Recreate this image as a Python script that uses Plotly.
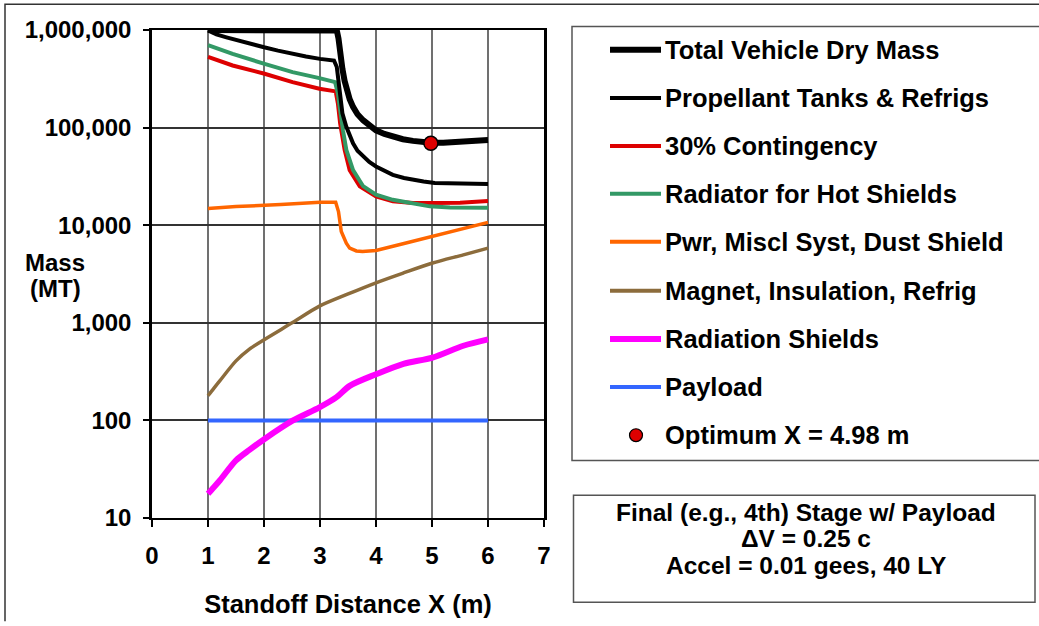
import plotly.graph_objects as go

# ---------------- data ----------------
total_x = [1.0, 1.5, 2.0, 2.5, 3.0, 3.25, 3.30, 3.33, 3.36, 3.40, 3.44, 3.48, 3.53, 3.59, 3.67,
           3.77, 3.88, 4.0, 4.15, 4.30, 4.48, 4.66, 4.80, 4.98, 5.2, 5.5, 5.8, 6.0]
total_y = [1000000, 1000000, 1000000, 1000000, 1000000, 1000000, 990000, 820000, 560000, 400000,
           300000, 240000, 195000, 163000, 137000, 119000, 104000, 93800, 86000, 80300, 76000,
           73100, 71500, 69800, 70000, 71000, 73000, 74500]

prop_x = [1.0, 1.15, 1.33, 1.5, 1.74, 2.0, 2.25, 2.5, 2.75, 3.0, 3.25, 3.30, 3.33, 3.36, 3.40,
          3.47, 3.53, 3.59, 3.67, 3.77, 3.88, 4.0, 4.15, 4.3, 4.5, 4.66, 4.85, 5.05, 5.5, 6.0]
prop_y = [990000, 900000, 841000, 790000, 720000, 665000, 615000, 569000, 535000, 506000, 486000,
          417000, 282000, 200000, 140000, 102000, 82000, 69000, 58000, 50600, 44500, 40000, 36000,
          32800, 30500, 29200, 28000, 27000, 26500, 26500]

cont_x = [1.0, 1.44, 2.01, 2.51, 2.99, 3.23, 3.28, 3.32, 3.36, 3.44, 3.53, 3.71, 4.0, 4.3, 4.66,
          5.0, 5.5, 6.0]
cont_y = [530000, 433000, 356000, 292000, 250000, 240000, 235000, 176000, 110000, 59000, 36700,
          25100, 19700, 17600, 16900, 16900, 17000, 17700]

rad_x = [1.0, 1.44, 2.01, 2.51, 2.99, 3.23, 3.27, 3.32, 3.35, 3.41, 3.47, 3.59, 3.77, 4.0, 4.3,
         4.66, 4.96, 5.32, 6.0]
rad_y = [700000, 569000, 450000, 370000, 321000, 297000, 292000, 223000, 163000, 93800, 59000,
         36700, 25100, 20500, 18200, 16600, 15600, 15200, 15100]

pwr_x = [1.0, 1.5, 2.3, 3.0, 3.28, 3.33, 3.38, 3.47, 3.53, 3.65, 3.76, 4.0, 4.5, 5.01, 5.5, 6.0]
pwr_y = [14800, 15500, 16300, 17200, 17200, 13800, 8630, 6550, 5820, 5450, 5370, 5500, 6500,
         7670, 9000, 10700]

mag_x = [1.0, 1.1, 1.21, 1.5, 1.74, 2.01, 2.51, 2.99, 3.48, 4.0, 4.49, 5.01, 5.56, 6.0]
mag_y = [179, 212, 254, 407, 538, 676, 1005, 1480, 1950, 2570, 3240, 4100, 4970, 5820]

shield_x = [1.0, 1.1, 1.21, 1.5, 1.74, 2.01, 2.51, 2.99, 3.29, 3.53, 4.0, 4.49, 5.01, 5.56, 6.0]
shield_y = [17.7, 20.5, 24.2, 38.9, 49.9, 64.6, 99.3, 136, 172, 226, 297, 380, 440, 582, 676]

payload_x = [1.0, 6.0]
payload_y = [100, 100]

opt_x = [4.98]
opt_y = [69000]

y_tickvals = [10, 100, 1000, 10000, 100000, 1000000]
y_ticktext = ["10", "100", "1,000", "10,000", "100,000", "1,000,000"]
x_tickvals = [0, 1, 2, 3, 4, 5, 6, 7]

legend_names = ["Total Vehicle Dry Mass", "Propellant Tanks & Refrigs", "30% Contingency",
                "Radiator for Hot Shields", "Pwr, Miscl Syst, Dust Shield",
                "Magnet, Insulation, Refrig", "Radiation Shields", "Payload",
                "Optimum X = 4.98 m"]
note_lines = ["Final (e.g., 4th) Stage w/ Payload", "ΔV = 0.25 c", "Accel = 0.01 gees, 40 LY"]
y_title_lines = ["Mass", "(MT)"]

# ---------------- styles / layout ----------------
FONT = "Liberation Sans, Arial, Helvetica, sans-serif"
colors = ["#000000", "#000000", "#dd0000", "#339966", "#ff6600", "#8c6c3c", "#ff00ff", "#3366ff"]
widths = [6, 4, 4, 4, 3.5, 3.5, 6, 4]
shapes_kind = ["linear", "linear", "linear", "linear", "linear", "spline", "spline", "linear"]

W, H = 1039, 626
L, R, T, B = 152, 495, 30, 104
PW, PH = W - L - R, H - T - B


def px(x):
    """screen pixel x -> paper x"""
    return (x - L) / PW


def py(y):
    """screen pixel y -> paper y"""
    return (H - B - y) / PH


def path(points):
    """SVG path in paper coordinates from a list of screen-pixel points"""
    return "M " + " L ".join(f"{px(a):.5f},{py(b):.5f}" for a, b in points)


series = [
    (total_x, total_y), (prop_x, prop_y), (cont_x, cont_y), (rad_x, rad_y),
    (pwr_x, pwr_y), (mag_x, mag_y), (shield_x, shield_y), (payload_x, payload_y),
]
draw_order = [7, 6, 5, 4, 2, 3, 1, 0]

fig = go.Figure()
for i in draw_order:
    xs, ys = series[i]
    fig.add_trace(go.Scatter(x=xs, y=ys, mode="lines", name=legend_names[i],
                             line=dict(color=colors[i], width=widths[i], shape=shapes_kind[i],
                                       smoothing=0.8),
                             cliponaxis=False, showlegend=False))
fig.add_trace(go.Scatter(x=opt_x, y=opt_y, mode="markers", name=legend_names[8],
                         marker=dict(size=14, color="#dd0000", line=dict(color="#000000", width=1.5)),
                         cliponaxis=False, showlegend=False))

shapes = []
annotations = []

# outer frame (only its left and top edges lie inside the picture)
shapes.append(dict(type="path", xref="paper", yref="paper",
                   path=path([(5, H), (5, 4), (W, 4)]),
                   line=dict(color="#333333", width=1.5)))
# legend box (its right edge lies outside the picture)
shapes.append(dict(type="path", xref="paper", yref="paper",
                   path=path([(W, 26.5), (572, 26.5), (572, 464), (W, 464)]),
                   line=dict(color="#555555", width=1.5)))
# note box
shapes.append(dict(type="rect", xref="paper", yref="paper", x0=px(573.5), x1=px(1035), y0=py(499),
                   y1=py(607), line=dict(color="#555555", width=1.5)))

# legend (manual, to match the reference spacing)
leg_y = [50, 98.5, 147, 195, 243.5, 293, 341.5, 390, 438.5]
for i in range(8):
    shapes.append(dict(type="line", xref="paper", yref="paper", x0=px(610), x1=px(661),
                       y0=py(leg_y[i]), y1=py(leg_y[i]),
                       line=dict(color=colors[i], width=widths[i] if i not in (4, 5) else 4)))
shapes.append(dict(type="circle", xref="paper", yref="paper", x0=px(629.5), x1=px(642.5),
                   y0=py(445), y1=py(432), fillcolor="#dd0000", line=dict(color="#000000", width=1.2)))
for i, name in enumerate(legend_names):
    annotations.append(dict(text=name, xref="paper", yref="paper", x=px(663), y=py(leg_y[i]),
                            xanchor="left", yanchor="middle", showarrow=False,
                            font=dict(family=FONT, size=25.5, color="#000000", weight=700)))

# note box text
for yy, line in zip([516, 543, 570], note_lines):
    annotations.append(dict(text=line, xref="paper", yref="paper", x=px(806), y=py(yy),
                            xanchor="center", yanchor="middle", showarrow=False,
                            font=dict(family=FONT, size=24.5, color="#000000", weight=700)))

# y axis title
for yy, t in zip([264, 291], y_title_lines):
    annotations.append(dict(text=t, xref="paper", yref="paper", x=px(55), y=py(yy),
                            xanchor="center", yanchor="middle", showarrow=False,
                            font=dict(family=FONT, size=24, color="#000000", weight=700)))

tickfont = dict(family=FONT, size=24, color="#000000", weight=700)

fig.update_layout(
    width=W, height=H,
    margin=dict(l=L, r=R, t=T, b=B, pad=0),
    paper_bgcolor="white", plot_bgcolor="white",
    showlegend=False,
    shapes=shapes, annotations=annotations,
    xaxis=dict(range=[0, 7], tickvals=x_tickvals, ticks="outside", ticklen=7, tickwidth=1.5,
               tickcolor="#000000", showline=True, linecolor="#000000", linewidth=2, mirror=True,
               showgrid=True, gridcolor="#707070", gridwidth=1.5, zeroline=False,
               tickfont=tickfont, ticklabelstandoff=8,
               title=dict(text="Standoff Distance X (m)", standoff=27,
                          font=dict(family=FONT, size=25.5, color="#000000", weight=700))),
    yaxis=dict(type="log", range=[1, 6], tickvals=y_tickvals, ticktext=y_ticktext,
               ticks="outside", ticklen=6, tickwidth=1.5, tickcolor="#000000",
               showline=True, linecolor="#000000", linewidth=2.5, mirror=True,
               showgrid=True, gridcolor="#333333", gridwidth=1.5, zeroline=False,
               tickfont=tickfont, ticklabelstandoff=7),
)

# remove the default page margin so the figure sits at the window's top-left corner
fig.write_html("out.html", config={"displayModeBar": False},
               post_script="document.body.style.margin='0px';document.body.style.overflow='hidden';")
